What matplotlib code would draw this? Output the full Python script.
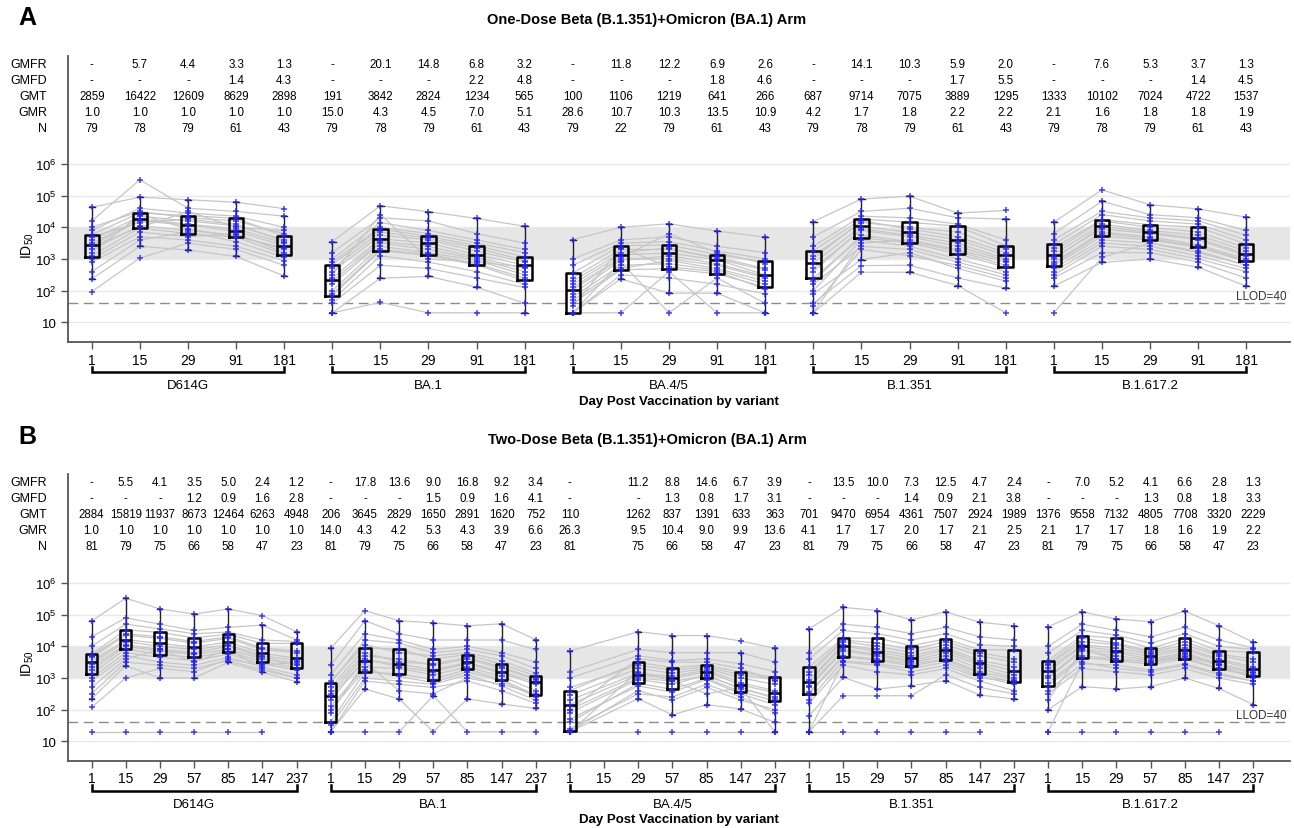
import numpy as np
import matplotlib
matplotlib.use('Agg')
import matplotlib.pyplot as plt
import matplotlib.transforms as mtransforms

plt.rcParams['font.family'] = ['Liberation Sans', 'DejaVu Sans']
plt.rcParams['mathtext.fontset'] = 'custom'
plt.rcParams['mathtext.rm'] = 'Liberation Sans'
plt.rcParams['mathtext.it'] = 'Liberation Sans:italic'
plt.rcParams['mathtext.bf'] = 'Liberation Sans:bold'

nan = np.nan

variants = ['D614G', 'BA.1', 'BA.4/5', 'B.1.351', 'B.1.617.2']
days_A = ['1', '15', '29', '91', '181']
days_B = ['1', '15', '29', '57', '85', '147', '237']
row_names = ['GMFR', 'GMFD', 'GMT', 'GMR', 'N']

# ---- panel A table ----
A_GMFR = ['-', '5.7', '4.4', '3.3', '1.3', '-', '20.1', '14.8', '6.8', '3.2', '-', '11.8', '12.2', '6.9', '2.6',
          '-', '14.1', '10.3', '5.9', '2.0', '-', '7.6', '5.3', '3.7', '1.3']
A_GMFD = ['-', '-', '-', '1.4', '4.3', '-', '-', '-', '2.2', '4.8', '-', '-', '-', '1.8', '4.6',
          '-', '-', '-', '1.7', '5.5', '-', '-', '-', '1.4', '4.5']
A_GMT = ['2859', '16422', '12609', '8629', '2898', '191', '3842', '2824', '1234', '565', '100', '1106', '1219', '641', '266',
         '687', '9714', '7075', '3889', '1295', '1333', '10102', '7024', '4722', '1537']
A_GMR = ['1.0', '1.0', '1.0', '1.0', '1.0', '15.0', '4.3', '4.5', '7.0', '5.1', '28.6', '10.7', '10.3', '13.5', '10.9',
         '4.2', '1.7', '1.8', '2.2', '2.2', '2.1', '1.6', '1.8', '1.8', '1.9']
A_N = ['79', '78', '79', '61', '43', '79', '78', '79', '61', '43', '79', '22', '79', '61', '43',
       '79', '78', '79', '61', '43', '79', '78', '79', '61', '43']

# ---- panel B table ----
B_GMFR = ['-', '5.5', '4.1', '3.5', '5.0', '2.4', '1.2', '-', '17.8', '13.6', '9.0', '16.8', '9.2', '3.4',
          '-', '', '11.2', '8.8', '14.6', '6.7', '3.9', '-', '13.5', '10.0', '7.3', '12.5', '4.7', '2.4',
          '-', '7.0', '5.2', '4.1', '6.6', '2.8', '1.3']
B_GMFD = ['-', '-', '-', '1.2', '0.9', '1.6', '2.8', '-', '-', '-', '1.5', '0.9', '1.6', '4.1',
          '-', '', '-', '1.3', '0.8', '1.7', '3.1', '-', '-', '-', '1.4', '0.9', '2.1', '3.8',
          '-', '-', '-', '1.3', '0.8', '1.8', '3.3']
B_GMT = ['2884', '15819', '11937', '8673', '12464', '6263', '4948', '206', '3645', '2829', '1650', '2891', '1620', '752',
         '110', '', '1262', '837', '1391', '633', '363', '701', '9470', '6954', '4361', '7507', '2924', '1989',
         '1376', '9558', '7132', '4805', '7708', '3320', '2229']
B_GMR = ['1.0', '1.0', '1.0', '1.0', '1.0', '1.0', '1.0', '14.0', '4.3', '4.2', '5.3', '4.3', '3.9', '6.6',
         '26.3', '', '9.5', '10.4', '9.0', '9.9', '13.6', '4.1', '1.7', '1.7', '2.0', '1.7', '2.1', '2.5',
         '2.1', '1.7', '1.7', '1.8', '1.6', '1.9', '2.2']
B_N = ['81', '79', '75', '66', '58', '47', '23', '81', '79', '75', '66', '58', '47', '23',
       '81', '', '75', '66', '58', '47', '23', '81', '79', '75', '66', '58', '47', '23',
       '81', '79', '75', '66', '58', '47', '23']

# ---- box stats (log10 ID50) ----
A_lo = [2.37, 3.40, 3.28, 3.08, 2.46, 1.30, 2.39, 2.45, 2.11, 1.30, 1.30, 2.37, 1.92, 1.92, 1.30,
        1.30, 2.98, 2.58, 2.16, 2.08, 2.14, 2.89, 3.00, 2.74, 2.14]
A_q1 = [3.07, 3.98, 3.80, 3.69, 3.14, 1.84, 3.26, 3.11, 2.81, 2.32, 1.30, 2.66, 2.69, 2.53, 2.11,
        2.40, 3.67, 3.51, 3.16, 2.74, 2.79, 3.72, 3.60, 3.37, 2.92]
A_med = [3.44, 4.26, 4.07, 3.88, 3.42, 2.32, 3.63, 3.51, 3.13, 2.81, 2.03, 3.13, 3.19, 2.97, 2.50,
         2.86, 4.03, 3.84, 3.61, 3.11, 3.14, 4.03, 3.84, 3.65, 3.16]
A_q3 = [3.77, 4.45, 4.37, 4.28, 3.72, 2.82, 3.95, 3.71, 3.42, 3.07, 2.56, 3.42, 3.44, 3.14, 2.92,
        3.26, 4.26, 4.16, 4.03, 3.42, 3.46, 4.24, 4.08, 4.00, 3.47]
A_hi = [4.63, 4.95, 4.87, 4.79, 4.35, 3.55, 4.68, 4.49, 4.28, 4.03, 3.61, 4.00, 4.11, 3.88, 3.69,
        4.18, 4.89, 4.98, 4.45, 4.26, 4.16, 4.82, 4.71, 4.58, 4.32]

B_lo = [2.34, 3.39, 3.00, 3.00, 3.49, 3.18, 2.88, 1.30, 2.65, 2.34, 2.44, 2.34, 2.18, 2.04,
        1.30, nan, 2.35, 1.83, 2.16, 2.02, 1.30, 1.30, 3.02, 2.65, 2.76, 2.92, 2.46, 2.34,
        2.00, 2.73, 2.65, 2.73, 3.00, 2.67, 2.16]
B_q1 = [3.13, 3.92, 3.74, 3.65, 3.83, 3.52, 3.32, 1.62, 3.18, 3.13, 2.95, 3.28, 2.95, 2.46,
        1.32, nan, 2.83, 2.64, 2.99, 2.57, 2.27, 2.49, 3.67, 3.55, 3.39, 3.57, 3.13, 2.86,
        2.76, 3.64, 3.55, 3.43, 3.60, 3.28, 3.07]
B_med = [3.52, 4.21, 4.09, 3.97, 4.14, 3.78, 3.62, 2.44, 3.55, 3.44, 3.26, 3.49, 3.20, 2.86,
         2.16, nan, 3.09, 2.99, 3.20, 2.78, 2.54, 2.86, 4.02, 3.83, 3.62, 3.89, 3.47, 3.23,
         3.21, 4.00, 3.86, 3.68, 3.89, 3.55, 3.28]
B_q3 = [3.75, 4.52, 4.44, 4.27, 4.38, 4.09, 4.09, 2.84, 3.94, 3.92, 3.60, 3.74, 3.44, 3.07,
        2.60, nan, 3.49, 3.33, 3.41, 3.18, 3.02, 3.34, 4.26, 4.26, 4.02, 4.23, 3.89, 3.89,
        3.55, 4.34, 4.25, 3.94, 4.25, 3.86, 3.81]
B_hi = [4.80, 5.52, 5.18, 5.02, 5.18, 4.67, 4.46, 3.94, 4.81, 4.81, 4.74, 4.65, 4.71, 4.21,
        3.85, nan, 4.46, 4.34, 4.34, 3.80, 3.94, 4.55, 5.23, 5.13, 4.84, 5.09, 4.76, 4.65,
        4.62, 5.09, 4.86, 4.78, 5.11, 4.65, 4.13]

# ---- individual subjects (log10 ID50) ----
A_D614G = [[4.63, 4.95, 4.87, 4.79, 4.59], [4.20, 5.50, 4.60, 4.50, 4.35], [3.90, 4.60, 4.45, 4.35, 4.00],
           [3.77, 4.45, 4.37, 4.28, 3.72], [3.60, 4.35, 4.20, 4.05, 3.60], [3.50, 4.26, 4.10, 3.95, 3.50],
           [3.44, 4.20, 4.07, 3.88, 3.42], [3.30, 4.05, 3.90, 3.75, 3.30], [3.10, 3.98, 3.80, 3.69, 3.14],
           [2.90, 3.70, 3.60, 3.40, 2.95], [2.37, 3.40, 3.28, 3.08, 2.46], [1.97, 3.03, 3.50, 3.30, 2.80],
           [4.00, 4.50, 4.30, 4.20, 3.80], [3.70, 4.15, 4.25, 4.10, 3.55], [3.20, 4.40, 3.95, 3.70, 3.35],
           [3.00, 3.85, 3.70, 3.80, 3.20], [2.60, 3.60, 3.85, 3.55, 3.05], [3.40, 4.00, 4.50, 4.00, 3.90]]
A_BA1 = [[3.55, 4.68, 4.49, 4.28, 4.03], [3.20, 4.30, 4.20, 3.80, 3.50], [2.90, 4.00, 3.80, 3.50, 3.20],
         [2.82, 3.95, 3.71, 3.42, 3.07], [2.60, 3.75, 3.60, 3.25, 2.90], [2.40, 3.63, 3.51, 3.13, 2.81],
         [2.20, 3.50, 3.30, 3.00, 2.60], [1.90, 3.30, 3.15, 2.85, 2.40], [1.84, 3.26, 3.11, 2.81, 2.32],
         [1.60, 2.80, 2.70, 2.40, 2.10], [1.30, 2.39, 2.45, 2.11, 1.60], [1.30, 1.63, 1.30, 1.30, 1.30],
         [3.00, 4.15, 3.90, 3.60, 3.30], [2.70, 3.85, 3.65, 3.35, 2.95], [2.30, 3.55, 3.40, 3.05, 2.70],
         [2.00, 3.40, 3.20, 2.95, 2.50], [1.70, 3.10, 2.90, 2.60, 2.20], [2.50, 4.40, 3.00, 2.90, 2.75]]
A_BA45 = [[3.61, 4.00, 4.11, 3.88, 3.69], [3.00, 3.60, 3.70, 3.40, 3.20], [2.56, 3.42, 3.44, 3.14, 2.92],
          [2.40, 3.30, 3.30, 3.05, 2.70], [2.20, 3.13, 3.19, 2.97, 2.50], [2.03, 3.00, 3.00, 2.80, 2.40],
          [1.80, 2.80, 2.85, 2.65, 2.20], [1.60, 2.66, 2.69, 2.53, 2.11], [1.30, 2.50, 2.40, 2.20, 1.90],
          [1.30, 2.37, 1.92, 1.92, 1.30], [1.30, 1.30, 2.60, 1.30, 1.30], [1.30, 2.90, 1.30, 2.40, 1.60],
          [2.80, 3.50, 3.55, 3.25, 3.00], [2.30, 3.20, 3.35, 3.00, 2.65], [1.90, 2.95, 3.10, 2.85, 2.45],
          [1.70, 2.70, 2.95, 2.70, 2.30], [1.50, 3.35, 2.75, 2.60, 2.05], [2.10, 3.05, 3.80, 3.20, 2.85]]
A_B1351 = [[4.18, 4.89, 4.98, 4.45, 4.53], [3.70, 4.50, 4.60, 4.30, 4.26], [3.26, 4.26, 4.16, 4.03, 3.42],
           [3.10, 4.15, 4.00, 3.85, 3.30], [2.86, 4.03, 3.84, 3.61, 3.11], [2.70, 3.90, 3.70, 3.40, 2.95],
           [2.40, 3.67, 3.51, 3.16, 2.74], [2.20, 3.40, 3.30, 2.90, 2.50], [1.90, 2.98, 3.20, 2.70, 2.30],
           [1.60, 2.79, 2.80, 2.40, 2.08], [1.30, 2.58, 2.58, 2.16, 1.30], [1.30, 3.50, 3.60, 3.30, 2.90],
           [3.40, 4.35, 4.30, 4.10, 3.60], [3.00, 4.20, 3.95, 3.70, 3.20], [2.60, 3.95, 3.75, 3.50, 3.00],
           [2.30, 3.75, 3.55, 3.25, 2.80], [2.00, 3.60, 3.40, 3.00, 2.60], [1.50, 3.30, 3.10, 2.80, 2.40]]
A_B16172 = [[4.16, 5.18, 4.71, 4.58, 4.32], [3.80, 4.82, 4.40, 4.30, 3.90], [3.46, 4.40, 4.20, 4.10, 3.60],
            [3.35, 4.24, 4.08, 4.00, 3.47], [3.14, 4.10, 3.90, 3.75, 3.25], [3.00, 4.03, 3.84, 3.65, 3.16],
            [2.90, 3.85, 3.70, 3.45, 3.00], [2.79, 3.72, 3.60, 3.37, 2.92], [2.60, 3.50, 3.40, 3.10, 2.70],
            [2.40, 3.20, 3.20, 2.90, 2.40], [2.14, 2.89, 3.00, 2.74, 2.14], [1.30, 3.05, 3.50, 3.20, 2.80],
            [3.60, 4.50, 4.30, 4.20, 3.75], [3.25, 4.20, 4.00, 3.85, 3.35], [3.05, 3.95, 3.80, 3.60, 3.10],
            [2.85, 3.80, 3.65, 3.40, 2.95], [2.70, 3.60, 3.50, 3.25, 2.80], [2.50, 3.40, 3.30, 3.00, 2.60]]

B_D614G = [[4.80, 5.52, 5.18, 5.02, 5.18, 4.97, 4.46], [4.30, 4.90, 4.70, 4.50, 4.60, 4.67, 4.20],
           [3.75, 4.52, 4.44, 4.27, 4.38, 4.09, 4.09], [3.65, 4.35, 4.25, 4.10, 4.25, 3.90, 3.80],
           [3.52, 4.21, 4.09, 3.97, 4.14, 3.78, 3.62], [3.35, 4.05, 3.90, 3.80, 4.00, 3.65, 3.45],
           [3.13, 3.92, 3.74, 3.65, 3.83, 3.52, 3.32], [2.90, 3.70, 3.50, 3.40, 3.65, 3.35, 3.10],
           [2.34, 3.39, 3.00, 3.00, 3.49, 3.18, 2.88], [2.07, 3.00, 3.30, 3.20, 3.60, 3.40, 3.50],
           [1.30, 1.30, 1.30, 1.30, 1.30, 1.30, nan], [2.70, 3.60, 3.90, 3.50, 3.90, 3.30, 3.00],
           [4.00, 4.70, 4.55, 4.40, 4.45, 4.20, 4.15], [3.70, 4.40, 4.30, 4.15, 4.30, 3.95, 3.85],
           [3.45, 4.15, 4.00, 3.90, 4.05, 3.70, 3.55], [3.25, 4.00, 3.85, 3.75, 3.90, 3.60, 3.40],
           [3.00, 3.80, 3.65, 3.55, 3.75, 3.45, 3.25], [2.50, 3.50, 3.40, 3.30, 3.55, 3.25, 3.00]]
B_BA1 = [[3.94, 5.13, 4.81, 4.74, 4.65, 4.71, 4.21], [3.40, 4.81, 4.40, 4.20, 4.20, 4.20, 3.90],
         [2.84, 4.20, 4.10, 3.80, 3.90, 3.70, 3.30], [2.70, 3.94, 3.92, 3.60, 3.74, 3.44, 3.07],
         [2.50, 3.70, 3.60, 3.40, 3.60, 3.30, 2.95], [2.44, 3.55, 3.44, 3.26, 3.49, 3.20, 2.86],
         [2.10, 3.35, 3.30, 3.10, 3.35, 3.05, 2.60], [1.62, 3.18, 3.13, 2.95, 3.28, 2.95, 2.46],
         [1.30, 2.90, 2.80, 2.70, 2.90, 2.60, 2.20], [1.30, 2.65, 2.34, 1.30, 2.34, 2.18, 2.04],
         [1.30, 1.30, 1.30, 2.44, 1.30, 1.30, 1.30], [1.90, 3.50, 2.60, 2.50, 3.00, 2.80, 2.50],
         [3.10, 4.40, 4.20, 3.90, 4.00, 3.80, 3.50], [2.90, 4.05, 3.80, 3.70, 3.80, 3.55, 3.15],
         [2.60, 3.80, 3.50, 3.45, 3.65, 3.35, 2.98], [2.30, 3.60, 3.35, 3.20, 3.45, 3.15, 2.80],
         [2.00, 3.25, 3.05, 2.85, 3.20, 2.90, 2.40], [1.50, 3.00, 2.90, 2.80, 3.10, 2.75, 2.30]]
B_BA45 = [[3.85, nan, 4.46, 4.34, 4.34, 4.17, 3.94], [3.20, nan, 3.90, 3.80, 3.80, 3.80, 3.50],
          [2.60, nan, 3.49, 3.33, 3.41, 3.18, 3.02], [2.45, nan, 3.30, 3.15, 3.30, 3.00, 2.80],
          [2.16, nan, 3.09, 2.99, 3.20, 2.78, 2.54], [1.90, nan, 2.95, 2.80, 3.10, 2.65, 2.40],
          [1.60, nan, 2.83, 2.64, 2.99, 2.57, 2.27], [1.32, nan, 2.60, 2.30, 2.70, 2.30, 2.00],
          [1.30, nan, 2.35, 1.83, 2.16, 2.02, 1.60], [1.30, nan, 1.30, 1.30, 1.30, 1.30, 1.30],
          [1.30, nan, 3.20, 2.90, 2.50, 2.70, 1.30], [2.00, nan, 3.60, 3.50, 3.50, 3.30, 2.90],
          [3.00, nan, 3.70, 3.55, 3.60, 3.45, 3.20], [2.70, nan, 3.40, 3.25, 3.35, 3.10, 2.95],
          [2.30, nan, 3.15, 3.05, 3.25, 2.85, 2.60], [2.00, nan, 3.00, 2.90, 3.05, 2.70, 2.35],
          [1.70, nan, 2.75, 2.55, 2.95, 2.50, 2.15], [1.40, nan, 2.50, 2.40, 2.80, 2.40, 1.90]]
B_B1351 = [[4.55, 5.23, 5.13, 4.84, 5.09, 4.76, 4.65], [3.80, 4.70, 4.60, 4.40, 4.60, 4.30, 4.20],
           [3.34, 4.26, 4.26, 4.02, 4.23, 3.89, 3.89], [3.10, 4.15, 4.00, 3.80, 4.05, 3.70, 3.50],
           [2.86, 4.02, 3.83, 3.62, 3.89, 3.47, 3.23], [2.70, 3.85, 3.70, 3.50, 3.70, 3.30, 3.00],
           [2.49, 3.67, 3.55, 3.39, 3.57, 3.13, 2.86], [2.20, 3.40, 3.20, 3.10, 3.30, 2.90, 2.60],
           [1.80, 3.02, 2.65, 2.76, 2.92, 2.46, 2.34], [1.30, 2.44, 2.44, 2.44, 3.10, 2.70, 2.50],
           [1.30, 1.30, 1.30, 1.30, 1.30, 1.30, nan], [1.30, 3.50, 3.40, 3.20, 3.40, 3.00, 2.90],
           [3.60, 4.50, 4.40, 4.20, 4.40, 4.05, 4.00], [3.20, 4.20, 4.10, 3.90, 4.15, 3.80, 3.60],
           [2.95, 4.05, 3.90, 3.70, 3.95, 3.55, 3.35], [2.75, 3.90, 3.75, 3.55, 3.80, 3.40, 3.10],
           [2.55, 3.70, 3.60, 3.45, 3.60, 3.20, 2.95], [2.30, 3.55, 3.45, 3.30, 3.50, 3.05, 2.80]]
B_B16172 = [[4.62, 5.09, 4.86, 4.78, 5.11, 4.65, 4.13], [4.00, 4.70, 4.50, 4.30, 4.60, 4.20, 3.95],
            [3.55, 4.34, 4.25, 3.94, 4.25, 3.86, 3.81], [3.40, 4.15, 4.05, 3.80, 4.05, 3.70, 3.50],
            [3.21, 4.00, 3.86, 3.68, 3.89, 3.55, 3.28], [3.00, 3.85, 3.70, 3.55, 3.75, 3.40, 3.15],
            [2.76, 3.64, 3.55, 3.43, 3.60, 3.28, 3.07], [2.50, 3.30, 3.20, 3.10, 3.30, 3.00, 2.80],
            [2.00, 2.73, 2.65, 2.73, 3.00, 2.67, 2.16], [1.30, 1.30, 1.30, 1.30, 1.30, 1.30, nan],
            [1.30, 3.50, 3.30, 3.20, 3.40, 3.10, 2.90], [2.30, 3.90, 3.60, 3.50, 3.70, 3.40, 3.00],
            [3.80, 4.50, 4.35, 4.10, 4.40, 4.00, 3.90], [3.45, 4.25, 4.10, 3.85, 4.15, 3.75, 3.60],
            [3.30, 4.05, 3.95, 3.75, 3.95, 3.60, 3.35], [3.05, 3.90, 3.80, 3.60, 3.80, 3.45, 3.20],
            [2.85, 3.70, 3.60, 3.50, 3.65, 3.30, 3.10], [2.60, 3.45, 3.40, 3.25, 3.45, 3.15, 2.90]]

LLOD = 40


def draw_panel(ax, days, subjects, lo, q1, med, q3, hi, table, ylog, xlim, box_w):
    nd = len(days)
    ax.set_yscale('log')
    ax.set_ylim(10 ** ylog[0], 10 ** ylog[1])
    ax.set_xlim(*xlim)
    ax.axhspan(1e3, 1e4, color='#e6e6e6', lw=0, zorder=0)
    for e in range(1, 7):
        ax.axhline(10 ** e, color='#e9e9e9', lw=1, zorder=0.5)
    ax.axhline(LLOD, color='#8c8c8c', lw=1, ls=(0, (7, 4)), zorder=1)
    ax.text(0.997, 1.08 * LLOD, 'LLOD=40', transform=mtransforms.blended_transform_factory(ax.transAxes, ax.transData),
            ha='right', va='bottom', fontsize=8.5, color='#333333')

    # subject lines and points
    for g, subj in enumerate(subjects):
        x0 = g * nd
        for row in subj:
            xs = np.array([x0 + i for i, v in enumerate(row) if not np.isnan(v)])
            ys = np.array([10 ** v for v in row if not np.isnan(v)])
            ax.plot(xs, ys, color='#c6c6c6', lw=0.9, zorder=1.5)
            ax.plot(xs, ys, ls='none', marker='+', ms=5, mew=1.1, color='#1f1fff', alpha=0.85, zorder=4)

    # boxes
    stats, pos = [], []
    for i in range(len(med)):
        if np.isnan(med[i]):
            continue
        stats.append(dict(med=10 ** med[i], q1=10 ** q1[i], q3=10 ** q3[i],
                          whislo=10 ** lo[i], whishi=10 ** hi[i], fliers=[]))
        pos.append(i)
    ax.bxp(stats, positions=pos, widths=box_w, showfliers=False, capwidths=box_w * 0.45,
           boxprops=dict(color='black', lw=1.8), medianprops=dict(color='black', lw=1.8),
           whiskerprops=dict(color='#222222', lw=1.0), capprops=dict(color='#222222', lw=1.0),
           manage_ticks=False, zorder=3)

    # axes cosmetics
    ax.set_yticks([10, 1e2, 1e3, 1e4, 1e5, 1e6])
    ax.set_yticklabels(['10', '$10^{2}$', '$10^{3}$', '$10^{4}$', '$10^{5}$', '$10^{6}$'], fontsize=9.5)
    ax.yaxis.set_minor_locator(matplotlib.ticker.NullLocator())
    ax.set_xticks(range(len(med)))
    ax.set_xticklabels(days * len(variants), fontsize=10)
    ax.tick_params(axis='both', direction='out', length=5, width=1, color='#555555', pad=3)
    ax.tick_params(axis='x', pad=2.5)
    for s in ['top', 'right']:
        ax.spines[s].set_visible(False)
    for s in ['left', 'bottom']:
        ax.spines[s].set_color('#555555')
        ax.spines[s].set_linewidth(1.3)
    ax.set_ylabel('ID$_{50}$', fontsize=10, labelpad=2)
    ax.yaxis.set_label_coords(-0.026, 0.34)

    # table above plot
    tr = mtransforms.blended_transform_factory(ax.transData, ax.transAxes)
    row_y = [0.972, 0.916, 0.860, 0.804, 0.748]
    for r, (name, vals) in enumerate(zip(row_names, table)):
        ax.text(-0.017, row_y[r], name, transform=ax.transAxes, ha='right', va='center', fontsize=9)
        for i, v in enumerate(vals):
            ax.text(i, row_y[r], v, transform=tr, ha='center', va='center', fontsize=8.3)

    # group brackets
    for g, name in enumerate(variants):
        a, b = g * nd, g * nd + nd - 1
        ax.plot([a, a, b, b], [-0.086, -0.104, -0.104, -0.086], transform=tr, color='black',
                lw=1.8, clip_on=False, solid_joinstyle='miter')
        ax.text((a + b) / 2, -0.150, name, transform=tr, ha='center', va='center', fontsize=9.5)
    ax.text(0.5, -0.205, 'Day Post Vaccination by variant', transform=ax.transAxes, ha='center',
            va='center', fontsize=9.5, fontweight='bold')


fig = plt.figure(figsize=(12.94, 8.29), dpi=100)
W, H = 1294, 829
axA = fig.add_axes([67.7 / W, 1 - 343.3 / H, (1290 - 67.7) / W, 286.3 / H])
axB = fig.add_axes([67.7 / W, 1 - 761.7 / H, (1290 - 67.7) / W, 286.7 / H])

draw_panel(axA, days_A, [A_D614G, A_BA1, A_BA45, A_B1351, A_B16172],
           A_lo, A_q1, A_med, A_q3, A_hi, [A_GMFR, A_GMFD, A_GMT, A_GMR, A_N],
           (0.369, 9.407), (-0.5, 24.91), 0.30)
draw_panel(axB, days_B, [B_D614G, B_BA1, B_BA45, B_B1351, B_B16172],
           B_lo, B_q1, B_med, B_q3, B_hi, [B_GMFR, B_GMFD, B_GMT, B_GMR, B_N],
           (0.387, 9.443), (-0.70, 35.08), 0.33)

fig.text(18 / W, 1 - 18 / H, 'A', fontsize=18, fontweight='bold', ha='left', va='center')
fig.text(647 / W, 1 - 20 / H, 'One-Dose Beta (B.1.351)+Omicron (BA.1) Arm', fontsize=10.5,
         fontweight='bold', ha='center', va='center')
fig.text(18 / W, 1 - 437 / H, 'B', fontsize=18, fontweight='bold', ha='left', va='center')
fig.text(647 / W, 1 - 440 / H, 'Two-Dose Beta (B.1.351)+Omicron (BA.1) Arm', fontsize=10.5,
         fontweight='bold', ha='center', va='center')

fig.savefig('out.png', dpi=100)
